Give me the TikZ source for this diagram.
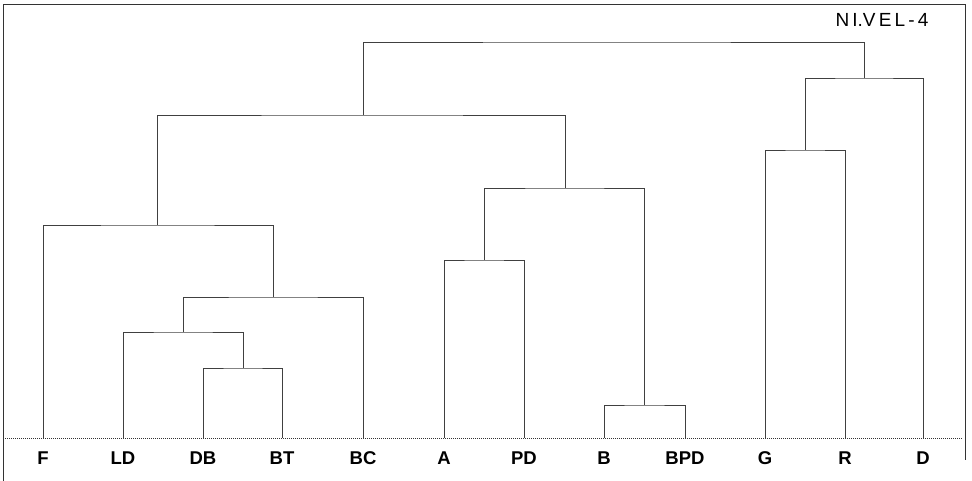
\documentclass[tikz,border=0pt]{standalone}
\usepackage{fontspec}
\setmainfont{Liberation Sans}
\begin{document}
\begin{tikzpicture}[x=1pt,y=-1pt,
  tree/.style={line width=0.8pt, black!75},
  frame/.style={line width=1pt, black!80},
  leaf/.style={font=\bfseries\fontsize{18.5}{18.5}\selectfont, anchor=center, inner sep=0pt},
  lf/.style={inner sep=0pt, minimum size=0pt}]
\useasboundingbox (0,0) rectangle (972,481);
% frame
\draw[frame] (3,481) -- (3,5) -- (965,5) -- (965,460);
\draw[frame, densely dotted] (3,438) -- (962,438);
% title
\node[font=\fontsize{19}{19}\selectfont, anchor=center, inner sep=0pt] (title) at (882,20) {N\,I.V\,E\,L\,-\,4};
% leaves
\foreach \n/\x in {F/43, LD/123, DB/203, BT/282, BC/363, A/444, PD/524, B/604, BPD/685, G/765, R/845, D/923}{
  \coordinate (\n) at (\x,438);
  \node[leaf] (lab\n) at (\x,458) {\n};
}
% merges
\draw[tree] (DB) |- (243,368) coordinate (m1) -| (BT);
\draw[tree] (LD) |- (183,332) coordinate (m2) -| (m1);
\draw[tree] (m2) |- (273,297) coordinate (m3) -| (BC);
\draw[tree] (F) |- (157,225) coordinate (m4) -| (m3);
\draw[tree] (A) |- (484,260) coordinate (m5) -| (PD);
\draw[tree] (B) |- (644,405) coordinate (m6) -| (BPD);
\draw[tree] (m5) |- (565,188) coordinate (m7) -| (m6);
\draw[tree] (m4) |- (363,115) coordinate (m8) -| (m7);
\draw[tree] (G) |- (805,150) coordinate (m9) -| (R);
\draw[tree] (m9) |- (864,78) coordinate (m10) -| (D);
\draw[tree] (m8) |- (600,42) -| (m10);
\end{tikzpicture}
\end{document}
